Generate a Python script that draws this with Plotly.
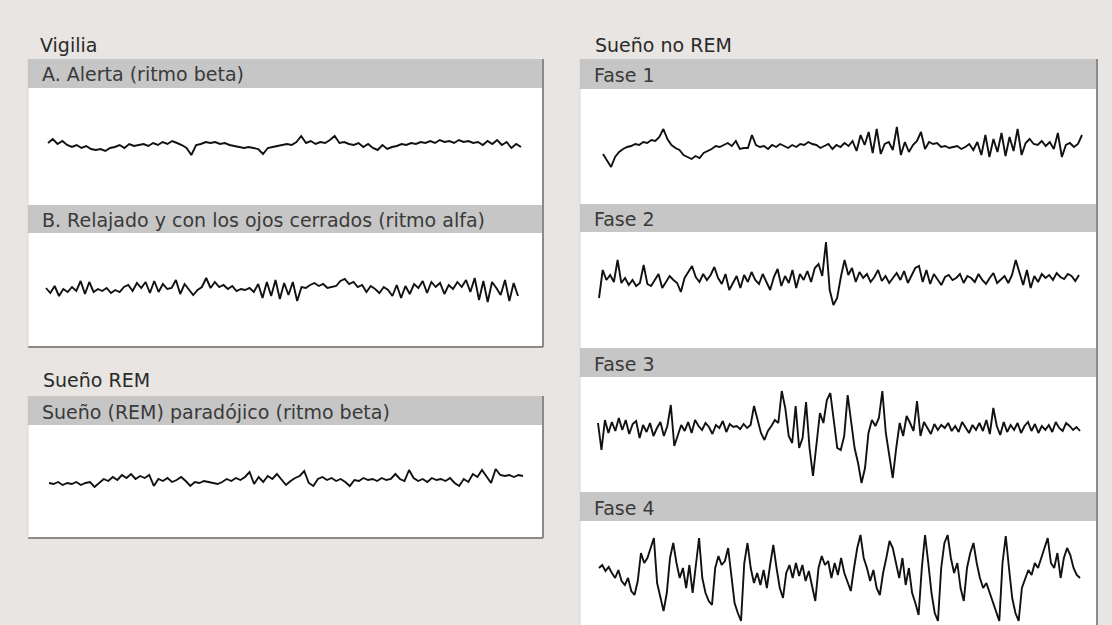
import plotly.graph_objects as go

W, H = 1112, 625

# ---------------- data (deviation of each EEG trace) ----------------
alerta = [3, 7, 2, 5, 1, -1, 1, -2, 0, -3,
          -4, -3, -5, -2, -1, 1, -2, 2, 0, 1,
          2, 0, 3, 1, 4, 2, 5, 3, 1, -2,
          -9, 1, 2, 4, 3, 4, 2, 3, 1, 0,
          -1, -2, -1, -2, -3, -8, -2, -1, 0, 1,
          2, 1, 4, 10, 3, 5, 2, 4, 3, 6,
          10, 3, 4, 2, 1, 3, -1, 2, -2, -4,
          1, -3, -1, 0, 2, 1, 3, 2, 4, 3,
          5, 3, 6, 4, 5, 3, 6, 4, 5, 3,
          4, 1, 5, 2, 6, 1, 4, -2, 2, -1]

relajado = [2, -3, 4, -6, 1, -2, 3, -1, 9, -4,
            8, -2, 1, -1, 2, -3, 0, -2, 3, 5,
            -1, 7, 2, 8, -3, 9, -2, 6, 1, 2,
            10, -4, 6, 1, -5, 0, 3, 12, 2, 8,
            3, 5, 1, 4, -1, 1, 0, 2, -2, 6,
            -8, 8, -6, 10, -9, 7, -5, 8, -11, 3,
            2, 5, 7, 4, 6, 2, 3, 4, 9, 11,
            6, 8, 3, 5, -2, 4, 1, -3, 3, 0,
            -6, 5, -8, 4, -4, 6, 2, 9, -3, 8,
            3, 7, -4, 5, 1, 8, 3, 10, -2, 12,
            -10, 9, -12, 8, 2, -5, 10, -11, 7, -6]

rem = [-3, -4, -2, -5, -3, -4, -2, -5, -3, -2,
       -7, -3, 1, -1, 3, 0, 5, 2, 6, 1,
       4, 2, 5, -6, 1, -1, 2, -2, 0, 3,
       -1, -6, -2, -3, -1, -2, -3, -4, -2, 1,
       -1, 2, 0, 3, 8, -4, 3, -2, 4, 1,
       6, 1, -5, -1, 2, 4, 9, -3, -6, 1,
       3, 0, 2, -1, 1, -2, -6, 0, -1, 2,
       0, 1, -1, 2, 0, 1, 6, 1, -1, 10,
       2, -1, 1, -2, 2, 0, 1, -1, 2, -3,
       -6, 1, -2, 6, 3, 10, 4, -3, 11, 5,
       4, 5, 3, 5, 4]

fase1 = [-7, -14, -20, -10, -5, -2, 0, 1, 3, 2,
         5, 4, 7, 6, 10, 18, 8, 2, -1, -3,
         -8, -10, -12, -9, -11, -6, -4, -2, 1, 0,
         2, 4, 1, 6, -2, -1, -1, 12, 2, 0,
         1, -2, 2, 0, 3, 1, -1, 2, 0, 3,
         2, 5, 3, 2, -1, 1, 3, -2, 2, 0,
         4, 1, 6, -4, 12, 2, 15, -6, 18, -7,
         3, 5, -3, 20, -8, 5, -5, 2, 6, 15,
         -2, 5, 3, 4, 0, 1, -1, 0, 1, -2,
         0, 3, -3, 5, -8, 12, -10, 8, -5, 14,
         -9, 10, -4, 18, -8, 4, 8, 3, 2, 6,
         1, 5, -2, 14, -10, 2, 4, 0, 3, 12]

fase2 = [-18, 10, 0, 5, -2, 20, -3, 2, -5, 0,
         -6, -3, 15, -4, -6, 0, 6, -8, -2, 4,
         0, -3, -12, 2, 8, 14, 3, -2, 6, 0,
         5, 13, 2, -4, 6, -10, -3, 4, -8, 5,
         -2, 8, 0, -4, 6, -2, -10, 3, 11, -6,
         4, -3, 10, -8, 6, 0, 9, -2, 12, 16,
         4, 38, -10, -25, -18, 3, 20, 5, 12, -2,
         8, 2, 6, -2, 3, 10, -1, 4, -3, 2,
         7, 0, 9, -3, 5, 12, 14, -2, 10, -4,
         6, 1, -5, 3, 5, 0, 2, 6, -3, 4,
         2, -2, 6, 0, -4, 2, 7, -3, 1, 4,
         -3, 5, 20, 8, -5, 10, -8, 4, -2, 6,
         2, 5, 0, 7, 3, 1, 6, 4, -1, 5]

fase3 = [5, -22, 8, -5, 6, -3, 10, -2, 8, -6,
         4, 7, -10, 3, -4, 5, -8, 0, 6, -8,
         2, 23, -18, -8, 3, -3, 6, -5, 8, 2,
         -2, 5, 1, -6, 3, 0, 7, -4, 4, 1,
         2, -1, 4, 0, 3, 22, 8, -5, -12, -3,
         2, 8, 5, 37, 20, -8, -15, 22, -20, -10,
         26, -20, -48, -15, 15, 5, 28, 35, 10, -20,
         -22, -8, 33, 5, -20, -35, -55, -40, -5, 8,
         2, 10, 37, -5, -30, -50, -20, 5, -8, 12,
         5, -3, 27, -8, 6, 0, -6, 4, -2, 3,
         0, 5, -3, 2, -4, 6, 0, -5, 3, -2,
         5, -3, 8, -6, 20, 2, -7, 6, -4, 3,
         -2, 5, -5, 2, 6, -3, 4, -5, 2, -2,
         3, -4, 6, 0, -3, 5, 2, -2, 1, -3]

fase4 = [5, 8, 2, 6, 0, -5, 3, -8, -12, -5,
         -18, -22, -8, 20, 10, 15, 25, 35, -10, -25,
         -38, -20, 15, 30, 10, -5, 5, -15, 8, -20,
         10, 35, -5, -20, -28, -32, 5, 17, 8, 12,
         25, -5, -30, -40, -48, 10, 30, 5, -10, 0,
         -12, 3, -15, 8, 28, 5, -15, -25, 0, 8,
         -5, 10, -3, 8, -8, 2, -12, -28, 5, 17,
         8, 12, -5, 10, -2, 15, 0, -10, -18, 5,
         25, 38, 15, 5, -8, 3, -15, -22, 0, 15,
         32, 25, 10, -5, 15, -12, 5, -20, -30, -42,
         5, 38, 10, -20, -40, -48, 5, 30, 38, 15,
         0, 10, -15, -28, 5, 20, 30, 10, -5, -15,
         -10, -20, -30, -40, -48, 10, 37, 5, -25, -40,
         -48, -15, -5, 3, -2, 10, 5, 15, 25, 35,
         10, 5, 20, -5, 15, 25, 18, 5, -2, -5]

section_labels = ["Vigilia", "Sueño REM", "Sueño no REM"]
panel_titles = ["A. Alerta (ritmo beta)",
                "B. Relajado y con los ojos cerrados (ritmo alfa)",
                "Sueño (REM) paradójico (ritmo beta)",
                "Fase 1", "Fase 2", "Fase 3", "Fase 4"]
series = [alerta, relajado, rem, fase1, fase2, fase3, fase4]

# ---------------- layout geometry (pixels) ----------------
BG = "#e8e5e2"
HEADER = "#c6c6c6"
SHADOW = "#8a8a8a"
TEXT = "#3a3a3a"
FONT = "DejaVu Sans"
FSIZE = 19

def fx(x):
    return x / W

def fy(y):
    return 1 - y / H

# each: header (x0, x1, ytop, ybot), body bottom, trace x start/end, baseline
geo = [
    (28, 543, 59, 88, 205, 48, 521, 146),
    (28, 543, 205, 233, 347, 46, 518, 290),
    (28, 543, 396, 425, 538, 49, 523, 480),
    (580, 1097, 59, 89, 204, 603, 1082, 147),
    (580, 1097, 204, 232, 348, 599, 1079, 280),
    (580, 1097, 348, 377, 492, 598, 1080, 428),
    (580, 1097, 492, 521, 640, 599, 1080, 573),
]

fig = go.Figure()
shapes = []
annotations = []

# outer boxes with shadow
boxes = [(28, 543, 59, 347), (28, 543, 396, 538), (580, 1097, 59, 640)]
for (x0, x1, y0, y1) in boxes:
    shapes.append(dict(type="rect", xref="paper", yref="paper",
                       x0=fx(x0), x1=fx(x1), y0=fy(y1), y1=fy(y0),
                       fillcolor="white", line=dict(width=0), layer="below"))
    shapes.append(dict(type="line", xref="paper", yref="paper",
                       x0=fx(x1), x1=fx(x1), y0=fy(y1), y1=fy(y0),
                       line=dict(color=SHADOW, width=2), layer="below"))
    shapes.append(dict(type="line", xref="paper", yref="paper",
                       x0=fx(x0), x1=fx(x1), y0=fy(y1), y1=fy(y1),
                       line=dict(color=SHADOW, width=2), layer="below"))
    shapes.append(dict(type="line", xref="paper", yref="paper",
                       x0=fx(x0), x1=fx(x0), y0=fy(y1), y1=fy(y0),
                       line=dict(color="#d6d6d6", width=1), layer="below"))

for i, (vals, title, g) in enumerate(zip(series, panel_titles, geo)):
    x0, x1, ht, hb, bb, tx0, tx1, base = g
    shapes.append(dict(type="rect", xref="paper", yref="paper",
                       x0=fx(x0), x1=fx(x1 - 1), y0=fy(hb), y1=fy(ht),
                       fillcolor=HEADER, line=dict(width=0), layer="below"))
    annotations.append(dict(text=title, xref="paper", yref="paper",
                            x=fx(x0 + 12), y=fy((ht + hb) / 2 + 1),
                            xanchor="left", yanchor="middle", showarrow=False,
                            font=dict(family=FONT, size=FSIZE, color=TEXT)))
    n = len(vals)
    step = (tx1 - tx0) / (n - 1)
    ax = "" if i == 0 else str(i + 1)
    top = min(bb, H)
    fig.add_trace(go.Scatter(x=list(range(n)), y=vals, mode="lines",
                             line=dict(color="#111111", width=1.9),
                             xaxis="x" + ax, yaxis="y" + ax,
                             showlegend=False, hoverinfo="skip"))
    fig.layout["xaxis" + ax] = dict(domain=[fx(x0), fx(x1 - 1)],
                                    range=[(x0 - tx0) / step, (x1 - 1 - tx0) / step],
                                    visible=False, fixedrange=True,
                                    anchor="y" + ax)
    fig.layout["yaxis" + ax] = dict(domain=[fy(top), fy(hb)],
                                    range=[-(top - base), base - hb],
                                    visible=False, fixedrange=True,
                                    anchor="x" + ax)

label_pos = [(38, 45), (41, 380), (593, 45)]
for lab, (lx, ly) in zip(section_labels, label_pos):
    annotations.append(dict(text=lab, xref="paper", yref="paper",
                            x=fx(lx), y=fy(ly), xanchor="left", yanchor="middle",
                            showarrow=False,
                            font=dict(family=FONT, size=FSIZE, color="#2a2a2a")))

fig.update_layout(width=W, height=H, margin=dict(l=0, r=0, t=0, b=0),
                  paper_bgcolor=BG, plot_bgcolor="rgba(0,0,0,0)",
                  shapes=shapes, annotations=annotations, showlegend=False)

fig.write_html("out.html",
               config={"displayModeBar": False, "staticPlot": True},
               post_script="document.body.style.margin='0';"
                           "document.body.style.background='%s';" % BG)
